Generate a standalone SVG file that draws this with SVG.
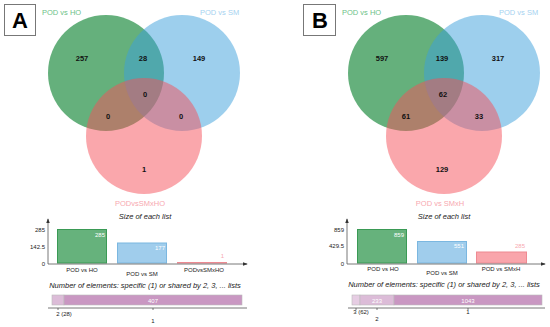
<svg xmlns="http://www.w3.org/2000/svg" width="550" height="327" viewBox="0 0 550 327">
<defs>
<marker id="arr" viewBox="0 0 6 6" refX="5" refY="3" markerWidth="6" markerHeight="6" orient="auto"><path d="M0,0.8 L6,3 L0,5.2 z" fill="#333"/></marker>
<style>
text{font-family:"Liberation Sans",Arial,sans-serif}
.box{fill:#fff;stroke:#777;stroke-width:1}
.pl{font-size:22px;font-weight:bold;text-anchor:middle;fill:#000}
.g{fill:rgb(50,150,80);fill-opacity:0.75}
.b{fill:rgb(60,160,220);fill-opacity:0.5}
.r{fill:rgb(245,80,90);fill-opacity:0.5}
.n{font-size:7.5px;font-weight:bold;text-anchor:middle;fill:#111}
.lg{font-size:7.5px;fill:#6cbf88}
.lb{font-size:7.5px;fill:#a5d2f0}
.lr{font-size:7.5px;fill:#f7a8b0;text-anchor:middle}
.t{font-size:7.5px;font-style:italic;text-anchor:middle;fill:#222}
.ax{stroke:#555;stroke-width:0.8;fill:none}
.tk{font-size:6px;text-anchor:end;fill:#222}
.xl{font-size:6px;text-anchor:middle;fill:#222}
.bg{fill:#66b27c;stroke:#3a9a55;stroke-width:1}
.bb{fill:#a0cdec;stroke:#7bb7e0;stroke-width:1}
.br{fill:#f9a5ab;stroke:#ee8a92;stroke-width:1}
.v{font-size:6px;fill:#fff;text-anchor:end}
.vr{font-size:6px;fill:#f7a8b0;text-anchor:end}
.s1{fill:#e6cde3;stroke:#bbb;stroke-width:0.6}
.s2{fill:#dcbcd8;stroke:#bbb;stroke-width:0.6}
.s3{fill:#c997c2;stroke:#bbb;stroke-width:0.6}
.sv{font-size:6px;fill:#fff;text-anchor:middle}
</style>
</defs>

<g id="panelA">
<g id="labelA"><rect class="box" x="4.5" y="4.5" width="31" height="31"/><text class="pl" x="20" y="28">A</text></g>
<g id="vennA">
<circle class="g" cx="106" cy="73" r="58"/>
<circle class="b" cx="182" cy="73" r="58"/>
<circle class="r" cx="144" cy="136" r="58"/>
<text class="lg" x="42" y="15">POD vs HO</text>
<text class="lb" x="200" y="15">POD vs SM</text>
<text class="lr" x="140" y="206">PODvsSMxHO</text>
<text class="n" x="82" y="61">257</text>
<text class="n" x="143" y="61">28</text>
<text class="n" x="199" y="61">149</text>
<text class="n" x="145" y="97">0</text>
<text class="n" x="108" y="119">0</text>
<text class="n" x="181" y="119">0</text>
<text class="n" x="144" y="172">1</text>
</g>
<g id="barsA">
<text class="t" x="145" y="219">Size of each list</text>
<rect class="bg" x="57.5" y="229.5" width="49" height="33.5"/>
<rect class="bb" x="117.5" y="243" width="49" height="20"/>
<rect class="br" x="177.5" y="262.5" width="49" height="0.5"/>
<text class="v" x="105" y="237">285</text>
<text class="v" x="165" y="250">177</text>
<text class="vr" x="224" y="258">1</text>
<line class="ax" x1="48" y1="264" x2="48" y2="219" marker-end="url(#arr)"/>
<line class="ax" x1="48" y1="264" x2="247" y2="264" marker-end="url(#arr)"/>
<text class="tk" x="45" y="232">285</text>
<text class="tk" x="45" y="249">142.5</text>
<text class="tk" x="45" y="266">0</text>
<text class="xl" x="82" y="272">POD vs HO</text>
<text class="xl" x="142" y="276">POD vs SM</text>
<text class="xl" x="204" y="272">PODvsSMxHO</text>
<text class="t" x="145" y="288">Number of elements: specific (1) or shared by 2, 3, ... lists</text>
<rect class="s2" x="52" y="295" width="12" height="10"/>
<rect class="s3" x="64" y="295" width="178" height="10"/>
<text class="sv" x="153" y="302.5">407</text>
<line class="ax" x1="48" y1="308" x2="247" y2="308"/>
<line class="ax" x1="58" y1="308" x2="58" y2="310"/>
<line class="ax" x1="153" y1="308" x2="153" y2="310"/>
<text class="xl" x="64" y="316">2 (28)</text>
<text class="xl" x="153" y="323">1</text>
</g>
</g>

<g id="panelB">
<g id="labelB"><rect class="box" x="303.5" y="4.5" width="32" height="31"/><text class="pl" x="320" y="28">B</text></g>
<g id="vennB">
<circle class="g" cx="406" cy="73" r="58"/>
<circle class="b" cx="482" cy="73" r="58"/>
<circle class="r" cx="444" cy="136" r="58"/>
<text class="lg" x="342" y="15">POD vs HO</text>
<text class="lb" x="499" y="15">POD vs SM</text>
<text class="lr" x="440" y="206">POD vs SMxH</text>
<text class="n" x="382" y="61">597</text>
<text class="n" x="442" y="61">139</text>
<text class="n" x="498" y="61">317</text>
<text class="n" x="443" y="97">62</text>
<text class="n" x="406" y="119">61</text>
<text class="n" x="479" y="119">33</text>
<text class="n" x="442" y="172">129</text>
</g>
<g id="barsB">
<text class="t" x="444" y="219">Size of each list</text>
<rect class="bg" x="357.5" y="229.5" width="49" height="33.5"/>
<rect class="bb" x="417.5" y="241.5" width="49" height="21.5"/>
<rect class="br" x="476.5" y="252" width="50" height="11"/>
<text class="v" x="404" y="237">859</text>
<text class="v" x="464" y="248">551</text>
<text class="vr" x="525" y="248">285</text>
<line class="ax" x1="347" y1="264" x2="347" y2="219" marker-end="url(#arr)"/>
<line class="ax" x1="347" y1="264" x2="545" y2="264" marker-end="url(#arr)"/>
<text class="tk" x="344" y="232">859</text>
<text class="tk" x="344" y="248">429.5</text>
<text class="tk" x="344" y="266">0</text>
<text class="xl" x="383" y="271">POD vs HO</text>
<text class="xl" x="442" y="275">POD vs SM</text>
<text class="xl" x="501" y="271">POD vs SMxH</text>
<text class="t" x="444" y="287">Number of elements: specific (1) or shared by 2, 3, ... lists</text>
<rect class="s1" x="352" y="295" width="8" height="10"/>
<rect class="s2" x="360" y="295" width="34" height="10"/>
<rect class="s3" x="394" y="295" width="148" height="10"/>
<text class="sv" x="377" y="302.5">233</text>
<text class="sv" x="468" y="302.5">1043</text>
<line class="ax" x1="348" y1="308" x2="545" y2="308"/>
<line class="ax" x1="356" y1="308" x2="356" y2="310"/>
<line class="ax" x1="377" y1="308" x2="377" y2="310"/>
<line class="ax" x1="468" y1="308" x2="468" y2="310"/>
<text class="xl" x="361" y="314">3 (62)</text>
<text class="xl" x="377" y="321">2</text>
<text class="xl" x="468" y="314">1</text>
</g>
</g>
</svg>
